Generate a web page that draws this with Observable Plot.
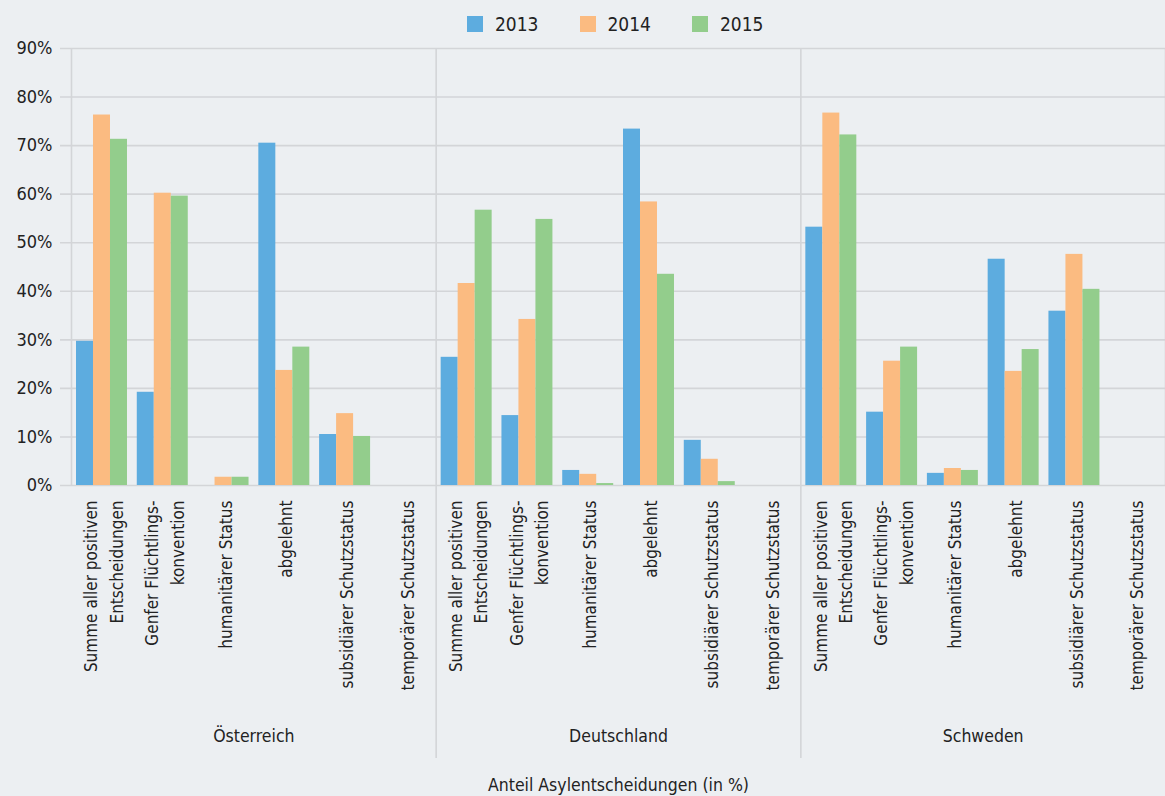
<!DOCTYPE html>
<html><head><meta charset="utf-8">
<script src="https://cdn.jsdelivr.net/npm/d3@7"></script>
<script src="https://cdn.jsdelivr.net/npm/@observablehq/plot@0.6"></script>
<style>
body{margin:0;background:#ECEFF2;font-family:"DejaVu Sans Condensed","Liberation Sans Narrow",sans-serif;}
#wrap{position:relative;width:1165px;height:796px;overflow:hidden;}
#legend{position:absolute;top:12px;left:467px;display:flex;font-size:19px;color:#222;line-height:24px;}
.item{display:flex;align-items:center;width:112.5px;}
.sw{width:16px;height:16px;margin-right:12px;}
</style></head><body><div id="wrap"><div id="legend"></div></div>
<script>
const countries = ["Österreich", "Deutschland", "Schweden"];
const categories = [
  "Summe aller positiven\nEntscheidungen",
  "Genfer Flüchtlings-\nkonvention",
  "humanitärer Status",
  "abgelehnt",
  "subsidiärer Schutzstatus",
  "temporärer Schutzstatus"
];
const years = ["2013", "2014", "2015"];
const colors = ["#5DACDF", "#FBBB81", "#93CD8C"];
const yTicks = [0, 10, 20, 30, 40, 50, 60, 70, 80, 90];
const axisTitle = "Anteil Asylentscheidungen (in %)";

// values per country & year, in category order (null = no bar)
const oesterreich2013 = [29.7, 19.2, null, 70.5, 10.5, null];
const oesterreich2014 = [76.3, 60.2, 1.7, 23.7, 14.8, null];
const oesterreich2015 = [71.3, 59.6, 1.7, 28.5, 10.1, null];
const deutschland2013 = [26.4, 14.4, 3.1, 73.4, 9.3, null];
const deutschland2014 = [41.6, 34.2, 2.3, 58.4, 5.4, null];
const deutschland2015 = [56.7, 54.8, 0.4, 43.5, 0.8, null];
const schweden2013 = [53.2, 15.1, 2.5, 46.6, 35.9, null];
const schweden2014 = [76.7, 25.6, 3.5, 23.5, 47.6, null];
const schweden2015 = [72.2, 28.5, 3.1, 28.0, 40.4, null];

const series = [
  [oesterreich2013, oesterreich2014, oesterreich2015],
  [deutschland2013, deutschland2014, deutschland2015],
  [schweden2013, schweden2014, schweden2015]
];

const pad = 5 / 60.8, bw = 17 / 60.8;
const rows = [];
series.forEach((byYear, ci) => byYear.forEach((vals, yi) => vals.forEach((v, ki) => {
  if (v != null) rows.push({country: countries[ci], year: years[yi], cat: categories[ki], value: v, ci, yi, ki});
})));
const catRows = [];
countries.forEach((c, ci) => categories.forEach((k, ki) => catRows.push({label: k, pos: ci * 6 + ki + 0.5})));
const countryRows = countries.map((c, ci) => ({country: c, pos: ci * 6 + 3}));
const outerEdges = [0, 18];
const groupEdges = [6, 12];

const FONT = '"DejaVu Sans Condensed","Liberation Sans Narrow",sans-serif';
const chart = Plot.plot({
  width: 1165, height: 796,
  marginTop: 48, marginBottom: 311, marginLeft: 71, marginRight: 0,
  style: {background: "transparent", fontFamily: FONT, fontSize: "17px", color: "#222", overflow: "visible"},
  x: {domain: [0, 18], axis: null},
  y: {domain: [0, 90], axis: null, label: null},
  color: {domain: years, range: colors},
  marks: [
    Plot.ruleY(yTicks, {stroke: "#D3D5D8", strokeWidth: 1.6, insetLeft: -11}),
    Plot.ruleX(outerEdges, {x: d => d, y1: 90, y2: 0, stroke: "#D3D5D8", strokeWidth: 1.6}),
    Plot.ruleX(groupEdges, {x: d => d, y1: 90, y2: 0, insetBottom: -273, stroke: "#D3D5D8", strokeWidth: 1.6}),
    Plot.rect(rows, {
      x1: d => d.ci * 6 + d.ki + pad + d.yi * bw,
      x2: d => d.ci * 6 + d.ki + pad + (d.yi + 1) * bw,
      y1: 0, y2: "value", fill: "year"
    }),
    Plot.axisY(yTicks, {tickSize: 0, tickPadding: 19, tickFormat: d => d + "%", fontSize: 18, fill: "#222", label: null}),
    Plot.text(catRows, {x: "pos", y: 0, text: "label", rotate: -90, textAnchor: "end", dy: 15, lineHeight: 1.5, fontSize: 17, fill: "#222"}),
    Plot.text(countryRows, {x: "pos", y: 0, text: "country", dy: 251, fontSize: 17.5, fill: "#222"}),
    Plot.text([axisTitle], {x: 9, y: 0, text: d => d, dy: 300, fontSize: 17.5, fill: "#222"})
  ]
});
const wrap = document.getElementById("wrap");
wrap.insertBefore(chart, wrap.firstChild);

const legend = document.getElementById("legend");
years.forEach((y, i) => {
  const it = document.createElement("div");
  it.className = "item";
  it.innerHTML = `<span class="sw" style="background:${colors[i]}"></span><span>${y}</span>`;
  legend.appendChild(it);
});
</script>
</body></html>
